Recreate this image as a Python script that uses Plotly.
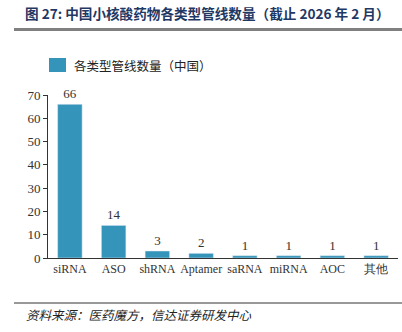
import plotly.graph_objects as go

categories = ["siRNA", "ASO", "shRNA", "Aptamer", "saRNA", "miRNA", "AOC", "其他"]
values = [66, 14, 3, 2, 1, 1, 1, 1]
series_name = "各类型管线数量（中国）"
title_text = "图 27: 中国小核酸药物各类型管线数量（截止 2026 年 2 月）"
source_text = "资料来源：医药魔方，信达证券研发中心"
y_ticks = [0, 10, 20, 30, 40, 50, 60, 70]

W, H = 402, 332
L, R, T, B = 48, 4, 95, 74
bar_color = "#3494BA"
serif = "Liberation Serif, DejaVu Serif, serif"

fig = go.Figure()
fig.add_trace(go.Bar(
    x=categories, y=values, marker_color=bar_color, width=0.56,
    text=[str(v) for v in values], textposition="outside", cliponaxis=False,
    textfont=dict(family=serif, size=13, color="#333333"),
    showlegend=False, name=series_name,
))

def to_paper_x(px):
    return (px - L) / (W - L - R)
def to_paper_y(py):
    return (H - B - py) / (H - T - B)

shapes = [
    dict(type="line", xref="paper", yref="paper", x0=to_paper_x(14), x1=to_paper_x(402),
         y0=to_paper_y(29.5), y1=to_paper_y(29.5), line=dict(color="#808080", width=3)),
    dict(type="line", xref="paper", yref="paper", x0=to_paper_x(14), x1=to_paper_x(402),
         y0=to_paper_y(303), y1=to_paper_y(303), line=dict(color="#333333", width=1)),
    dict(type="rect", xref="paper", yref="paper", x0=to_paper_x(49), x1=to_paper_x(66),
         y0=to_paper_y(72), y1=to_paper_y(58), fillcolor=bar_color, line=dict(width=0)),
]

annotations = [
    dict(text="<b>" + title_text + "</b>", xref="paper", yref="paper",
         x=to_paper_x(23), y=to_paper_y(13), xanchor="left", yanchor="middle",
         showarrow=False, font=dict(family="Noto Sans CJK SC", size=13.6, color="#1F3864")),
    dict(text=series_name, xref="paper", yref="paper",
         x=to_paper_x(72), y=to_paper_y(65), xanchor="left", yanchor="middle",
         showarrow=False, font=dict(family="Noto Sans CJK SC", size=12.5, color="#222222")),
    dict(text="<i>" + source_text + "</i>", xref="paper", yref="paper",
         x=to_paper_x(24), y=to_paper_y(314), xanchor="left", yanchor="middle",
         showarrow=False, font=dict(family="Noto Sans CJK SC", size=12.5, color="#222222")),
]

fig.update_layout(
    width=W, height=H, margin=dict(l=L, r=R, t=T, b=B),
    paper_bgcolor="white", plot_bgcolor="white",
    shapes=shapes, annotations=annotations, bargap=0.44,
    xaxis=dict(showline=True, linecolor="#333333", linewidth=1, ticks="",
               tickangle=0, automargin=False,
               tickfont=dict(family=serif, size=12, color="#333333"),
               showgrid=False),
    yaxis=dict(range=[0, 70], tickvals=y_ticks, showline=True, linecolor="#333333",
               linewidth=1, ticks="outside", ticklen=4, tickcolor="#333333",
               automargin=False,
               tickfont=dict(family=serif, size=13, color="#333333"),
               showgrid=False, zeroline=False),
)

fig.write_html("out.html")
